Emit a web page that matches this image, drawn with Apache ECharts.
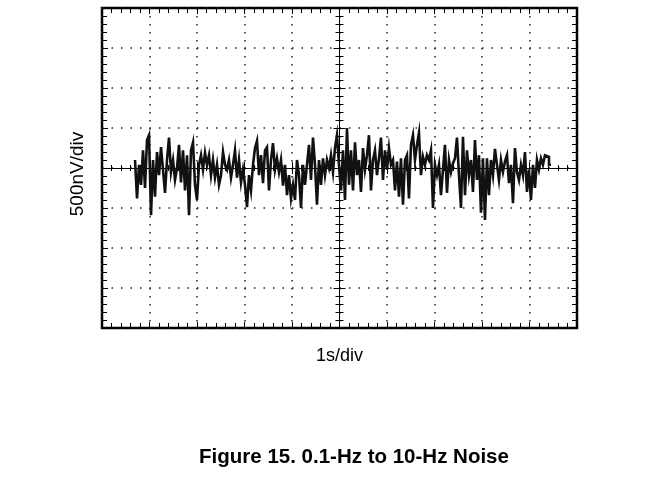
<!DOCTYPE html>
<html><head><meta charset="utf-8">
<script src="https://cdn.jsdelivr.net/npm/echarts@6/dist/echarts.min.js"></script>
<style>html,body{margin:0;padding:0;background:#fff}#c{width:647px;height:500px}</style>
</head><body><div id="c"></div>
<script>
// Axis ranges (10 horizontal divisions of 1 s, 8 vertical divisions of 500 nV)
const xMin = 0, xMax = 10, xDiv = 1;
const yMin = -2000, yMax = 2000, yDiv = 500;
const xTitle = '1s/div';
const yTitle = '500nV/div';
const caption = 'Figure 15. 0.1-Hz to 10-Hz Noise';

// Trace sampling (seconds)
const sampleStart = 0.695;
const sampleStep = 0.0421;

// Noise samples in nV, one array per screen segment
const noise1 = [100,-380,40,-210,220,-250,350,410,-590,100,-360,200,-90,260,-20,-310,100,380,-50,100,
  -150,0,290,-180,220,-280,160,-590,220,320,-210,-400,40,160,-20,190,40,160,-90,100,
  -120,40,-210,-90,200,40,-20,100,-120,40];
const noise2 = [220,-120,100,-180,-20,-210,-490,-90,-280,40,250,340,-90,160,-190,220,260,-280,100,310,
  -20,120,-50,100,-220,40,-340,-90,-380,-210,-400,100,-90,-500,40,-210,40,290,-150,380,
  40,-460,100,-210,120,-90,100,0,160,-50,250,410,40];
const noise3 = [-280,220,-400,500,-210,220,-280,320,-90,100,-300,250,-20,160,410,-280,100,220,-90,120,
  380,-150,220,-20,250,40,100,-280,80,-360,120,-460,100,160,-380,290,410,100,290,440,
  -90,140,40,160,100,220,-500,40,-90,40,-340,-20];
const noise4 = [290,-310,100,-50,60,120,380,-90,-500,390,-340,220,-90,100,-300,350,-150,160,-560,120,
  -650,120,-340,100,-90,240,40,-150,100,-50,80,160,-190,40,-440,250,-50,-150,40,-90,
  200,-300,-20,-400,40,-250,100,-20,120,40,160,140,40];

const values = noise1.concat(noise2, noise3, noise4);
// each sample is held until the next one (sample-and-hold trace)
const traceData = [];
values.forEach((v, i) => {
  traceData.push([sampleStart + i * sampleStep, v]);
  traceData.push([sampleStart + (i + 1) * sampleStep, v]);
});

const black = '#000';
const font = 'Liberation Sans, Arial, sans-serif';

function xAx(extra) {
  return Object.assign({
    type: 'value', min: xMin, max: xMax, interval: xDiv,
    axisLine: { show: false, onZero: false },
    axisTick: { show: true, inside: true, length: 6, lineStyle: { color: black, width: 1 } },
    minorTick: { show: true, splitNumber: 5, length: 5, lineStyle: { color: black, width: 1 } },
    axisLabel: { show: false },
    splitLine: { show: false }
  }, extra);
}
function yAx(extra) {
  return Object.assign({
    type: 'value', min: yMin, max: yMax, interval: yDiv,
    axisLine: { show: false, onZero: false },
    axisTick: { show: true, inside: true, length: 6, lineStyle: { color: black, width: 1 } },
    minorTick: { show: true, splitNumber: 5, length: 5, lineStyle: { color: black, width: 1 } },
    axisLabel: { show: false },
    splitLine: { show: false }
  }, extra);
}

const chart = echarts.init(document.getElementById('c'), null, { renderer: 'canvas' });
chart.setOption({
  animation: false,
  backgroundColor: '#fff',
  title: {
    text: caption, left: 349, top: 442, textAlign: 'center',
    textStyle: { fontFamily: font, fontSize: 20.5, fontWeight: 'bold', color: black }
  },
  grid: {
    left: 102, top: 8, width: 475, height: 320,
    show: true, borderColor: black, borderWidth: 2.5, backgroundColor: 'transparent'
  },
  xAxis: [
    xAx({
      position: 'bottom',
      name: xTitle, nameLocation: 'middle', nameGap: 19,
      nameTextStyle: { fontFamily: font, fontSize: 18, color: black },
      splitLine: { show: true, lineStyle: { color: '#222', width: 1.5, type: [1.5, 6.5] } }
    }),
    xAx({ position: 'top' }),
    xAx({
      position: 'bottom',
      axisLine: { show: true, onZero: true, onZeroAxisIndex: 0, lineStyle: { color: black, width: 1 } },
      axisTick: { show: true, inside: false, length: 6, lineStyle: { color: black, width: 1 } },
      minorTick: { show: true, splitNumber: 5, length: 3, lineStyle: { color: black, width: 1 } }
    }),
    xAx({
      position: 'top',
      axisLine: { show: false, onZero: true, onZeroAxisIndex: 0 },
      axisTick: { show: true, inside: false, length: 6, lineStyle: { color: black, width: 1 } },
      minorTick: { show: true, splitNumber: 5, length: 3, lineStyle: { color: black, width: 1 } }
    }),
    { type: 'value', min: -5, max: 5, show: false, axisLine: { onZero: false } }
  ],
  yAxis: [
    yAx({
      position: 'left',
      name: yTitle, nameLocation: 'middle', nameGap: 15,
      nameTextStyle: { fontFamily: font, fontSize: 19, color: black, padding: [0, 12, 0, 0] },
      splitLine: { show: true, lineStyle: { color: '#222', width: 1.5, type: [1.5, 8] } }
    }),
    yAx({ position: 'right' }),
    yAx({
      position: 'left',
      axisLine: { show: true, onZero: true, onZeroAxisIndex: 4, lineStyle: { color: black, width: 1 } },
      axisTick: { show: true, inside: false, length: 6, lineStyle: { color: black, width: 1 } },
      minorTick: { show: true, splitNumber: 5, length: 4, lineStyle: { color: black, width: 1 } }
    }),
    yAx({
      position: 'right',
      axisLine: { show: false, onZero: true, onZeroAxisIndex: 4 },
      axisTick: { show: true, inside: false, length: 6, lineStyle: { color: black, width: 1 } },
      minorTick: { show: true, splitNumber: 5, length: 4, lineStyle: { color: black, width: 1 } }
    })
  ],
  series: [{
    type: 'line', xAxisIndex: 0, yAxisIndex: 0,
    data: traceData, showSymbol: false, symbol: 'none',
    lineStyle: { color: '#111', width: 2.6, join: 'miter', cap: 'butt' }, z: 5
  }]
});
</script></body></html>
